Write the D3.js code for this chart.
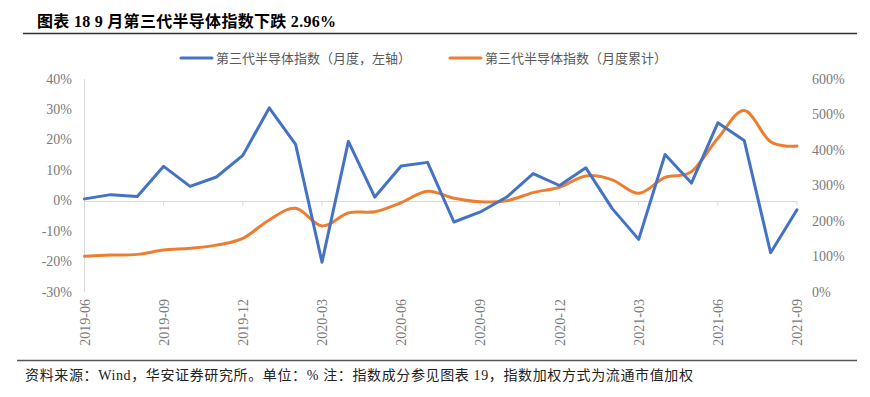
<!DOCTYPE html>
<html><head><meta charset="utf-8">
<script src="https://cdn.jsdelivr.net/npm/d3@7"></script>
<style>
html,body{margin:0;padding:0;background:#fff;}
svg{display:block;}
</style></head>
<body>
<svg id="chart" width="870" height="397"></svg>
<script>
const months = ["2019-06","2019-07","2019-08","2019-09","2019-10","2019-11","2019-12",
"2020-01","2020-02","2020-03","2020-04","2020-05","2020-06","2020-07","2020-08","2020-09",
"2020-10","2020-11","2020-12","2021-01","2021-02","2021-03","2021-04","2021-05","2021-06",
"2021-07","2021-08","2021-09"];
const monthly = [0.6,2.0,1.4,11.3,4.7,7.8,14.9,30.5,18.5,-20.2,19.5,1.2,11.4,12.6,-7.0,-3.7,
1.2,8.9,5.0,10.8,-2.6,-12.7,15.2,5.8,25.6,19.8,-17.1,-2.96];
const cumulative = [101,104,106,118,123,132,151,203,236,186,223,226,252,284,264,254,
257,280,295,327,316,278,323,339,433,511,423,411];
const leftTicks = [40,30,20,10,0,-10,-20,-30];
const rightTicks = [600,500,400,300,200,100,0];
const labelMonths = ["2019-06","2019-09","2019-12","2020-03","2020-06","2020-09","2020-12","2021-03","2021-06","2021-09"];
const seriesNames = ["第三代半导体指数（月度，左轴）","第三代半导体指数（月度累计）"];
const colors = ["#4472C4","#ED7D31"];

const svg = d3.select("#chart");
const serif = "'Liberation Serif','Noto Sans CJK SC',serif";
const cjk = "'Liberation Serif','Noto Sans CJK SC',sans-serif";

// title
svg.append("text").attr("x",37).attr("y",27).attr("font-family",cjk).attr("font-weight",700)
  .attr("font-size",16).attr("textLength",299).attr("lengthAdjust","spacing")
  .attr("fill","#000").text("图表 18 9 月第三代半导体指数下跌 2.96%");
svg.append("line").attr("x1",23).attr("x2",857).attr("y1",33.5).attr("y2",33.5)
  .attr("stroke","#333").attr("stroke-width",1.3);

// scales
const x = d3.scalePoint().domain(months).range([84.5,797]);
const yL = d3.scaleLinear().domain([-30,40]).range([292,79]);
const yR = d3.scaleLinear().domain([0,600]).range([292,79]);

// left axis line
svg.append("line").attr("x1",84.5).attr("x2",84.5).attr("y1",yL(40)).attr("y2",yL(-30))
  .attr("stroke","#d9d9d9").attr("stroke-width",1);

// left tick labels
svg.append("g").selectAll("text").data(leftTicks).join("text")
  .attr("x",72).attr("y",d=>yL(d)+4.5).attr("text-anchor","end")
  .attr("font-family",serif).attr("font-size",14).attr("fill","#7a7a7a").text(d=>d+"%");
// right tick labels
svg.append("g").selectAll("text").data(rightTicks).join("text")
  .attr("x",812).attr("y",d=>yR(d)+4.5).attr("text-anchor","start")
  .attr("font-family",serif).attr("font-size",14).attr("fill","#7a7a7a").text(d=>d+"%");

// zero line + ticks
const y0 = Math.round(yL(0))+0.5;
svg.append("line").attr("x1",84.5).attr("x2",797).attr("y1",y0).attr("y2",y0)
  .attr("stroke","#d9d9d9").attr("stroke-width",1.2);
svg.append("g").selectAll("line").data(labelMonths).join("line")
  .attr("x1",d=>x(d)).attr("x2",d=>x(d)).attr("y1",y0).attr("y2",y0+4)
  .attr("stroke","#d9d9d9").attr("stroke-width",1);

// x labels
svg.append("g").selectAll("text").data(labelMonths).join("text")
  .attr("transform",d=>`translate(${x(d)+5},299) rotate(-90)`)
  .attr("text-anchor","end").attr("font-family",serif).attr("font-size",14)
  .attr("fill","#7a7a7a").text(d=>d);

// lines
const lineL = d3.line().x((d,i)=>x(months[i])).y(d=>yL(d));
const lineR = d3.line().x((d,i)=>x(months[i])).y(d=>yR(d)).curve(d3.curveCardinal.tension(0));
svg.append("path").datum(cumulative).attr("d",lineR).attr("fill","none")
  .attr("stroke",colors[1]).attr("stroke-width",3).attr("stroke-linejoin","round").attr("stroke-linecap","round");
svg.append("path").datum(monthly).attr("d",lineL).attr("fill","none")
  .attr("stroke",colors[0]).attr("stroke-width",3).attr("stroke-linejoin","round").attr("stroke-linecap","round");

// legend
const legX = [181,450];
const legW = [195,182];
seriesNames.forEach((n,i)=>{
  svg.append("line").attr("x1",legX[i]).attr("x2",legX[i]+31).attr("y1",58).attr("y2",58)
    .attr("stroke",colors[i]).attr("stroke-width",3).attr("stroke-linecap","round");
  svg.append("text").attr("x",legX[i]+35).attr("y",62.5).attr("font-family",cjk)
    .attr("font-size",13).attr("textLength",legW[i]).attr("lengthAdjust","spacing")
    .attr("fill","#595959").text(n);
});

// footer
svg.append("line").attr("x1",17).attr("x2",857).attr("y1",360.5).attr("y2",360.5)
  .attr("stroke","#555").attr("stroke-width",1.3);
svg.append("text").attr("x",25).attr("y",380).attr("font-family",cjk).attr("font-size",14)
  .attr("textLength",668).attr("lengthAdjust","spacing")
  .attr("fill","#222").text("资料来源：Wind，华安证券研究所。单位：% 注：指数成分参见图表 19，指数加权方式为流通市值加权");
</script>
</body></html>
